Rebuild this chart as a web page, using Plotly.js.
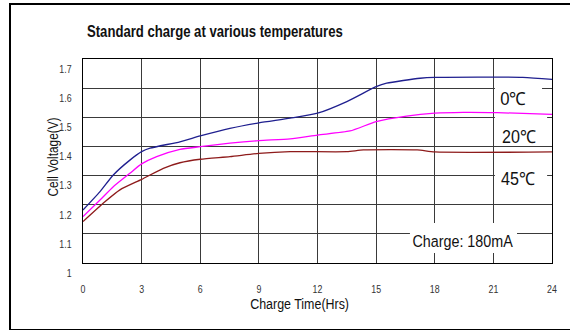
<!DOCTYPE html>
<html>
<head>
<meta charset="utf-8">
<script src="https://cdn.plot.ly/plotly-3.0.1.min.js"></script>
<style>
html,body{margin:0;padding:0;background:#fff;}
#wrap{position:relative;width:570px;height:330px;overflow:hidden;}
#chart{position:absolute;left:0;top:0;width:570px;height:330px;}
#frame{position:absolute;left:9px;top:3px;width:600px;height:324px;border:2px solid #000;pointer-events:none;}
</style>
</head>
<body>
<div id="wrap"><div id="chart"></div><div id="frame"></div></div>
<script>
// Data (hours, volts)
var t0 = [0, 0.87, 1.55, 2.4, 3.0, 3.43, 4.96, 6.0, 7.52, 9.0, 10.6, 12.0, 13.5, 15.0, 15.54, 17.25, 18.0, 22.5, 24];
var v0 = [1.182, 1.245, 1.302, 1.353, 1.382, 1.394, 1.416, 1.436, 1.462, 1.481, 1.497, 1.514, 1.554, 1.605, 1.617, 1.634, 1.637, 1.637, 1.630];

var t20 = [0, 0.87, 1.55, 2.4, 3.0, 3.77, 4.96, 6.0, 7.52, 9.0, 10.6, 12.0, 13.66, 15.0, 16.56, 18.0, 19.46, 21.2, 24];
var v20 = [1.159, 1.216, 1.262, 1.308, 1.340, 1.365, 1.390, 1.399, 1.411, 1.420, 1.426, 1.439, 1.453, 1.485, 1.504, 1.514, 1.517, 1.516, 1.510];

var t45 = [0, 1.12, 1.89, 3.0, 4.11, 4.96, 6.0, 7.52, 9.0, 10.6, 13.5, 14.35, 17.1, 18.0, 24];
var v45 = [1.142, 1.210, 1.251, 1.287, 1.325, 1.344, 1.356, 1.365, 1.376, 1.382, 1.382, 1.388, 1.388, 1.381, 1.381];

var xTicks = [0, 3, 6, 9, 12, 15, 18, 21, 24];
var yTicks = [1, 1.1, 1.2, 1.3, 1.4, 1.5, 1.6, 1.7];
var yTickText = ['1', '1.1', '1.2', '1.3', '1.4', '1.5', '1.6', '1.7'];

var seriesNames = ['0℃', '20℃', '45℃'];
var chartTitle = 'Standard charge at various temperatures';
var xTitle = 'Charge Time(Hrs)';
var yTitle = 'Cell Voltage(V)';
var noteText = 'Charge: 180mA';

var FONT = '"Liberation Sans", Arial, sans-serif';

function tr(x, y, name, color) {
  return {x: x, y: y, name: name, type: 'scatter', mode: 'lines',
    line: {color: color, width: 1.3, shape: 'spline', smoothing: 0.6},
    hoverinfo: 'skip'};
}

var data = [
  tr(t0, v0, seriesNames[0], '#1f1f8f'),
  tr(t20, v20, seriesNames[1], '#ff00ff'),
  tr(t45, v45, seriesNames[2], '#8e1b1b')
];

function box(x0, x1, y0, y1) {
  return {type: 'rect', xref: 'x', yref: 'y', x0: x0, x1: x1, y0: y0, y1: y1,
    fillcolor: '#fff', line: {width: 0}, layer: 'above'};
}

function label(x, y, text) {
  return {xref: 'x', yref: 'y', x: x, y: y, text: text, showarrow: false,
    xanchor: 'left', yanchor: 'middle', font: {family: FONT, size: 18, color: '#111'}};
}

var layout = {
  width: 570, height: 330,
  margin: {l: 83, r: 18, t: 59, b: 67},
  paper_bgcolor: '#fff', plot_bgcolor: '#fff',
  showlegend: false,
  title: {text: chartTitle, xref: 'container', yref: 'container', x: 87 / 570, xanchor: 'left',
    y: 1 - 31 / 330, yanchor: 'middle', font: {family: FONT, size: 16, color: '#111', weight: 'bold'}},
  xaxis: {range: [0, 24], tickvals: xTicks, ticktext: xTicks.map(String),
    showgrid: true, gridcolor: '#3a3a3a', gridwidth: 1, zeroline: false,
    showline: true, mirror: true, linecolor: '#000', linewidth: 1.2,
    ticks: '', ticklabelstandoff: 16,
    tickfont: {family: FONT, size: 11, color: '#333'}, fixedrange: true},
  yaxis: {range: [1.0, 1.7], tickvals: yTicks, ticktext: yTickText,
    showgrid: true, gridcolor: '#3a3a3a', gridwidth: 1, zeroline: false,
    showline: true, mirror: true, linecolor: '#000', linewidth: 1.2,
    ticks: '', ticklabelstandoff: 8, ticklabelshift: 10,
    tickfont: {family: FONT, size: 11, color: '#333'}, fixedrange: true},
  shapes: [
    box(21.08, 23.49, 1.518, 1.614),
    box(21.08, 23.75, 1.408, 1.505),
    box(21.08, 23.75, 1.240, 1.340),
    box(16.73, 22.21, 1.034, 1.137)
  ],
  annotations: [
    label(21.25, 1.563, seriesNames[0]),
    label(21.35, 1.432, seriesNames[1]),
    label(21.3, 1.288, seriesNames[2]),
    {xref: 'x', yref: 'y', x: 19.45, y: 1.075, text: noteText, showarrow: false,
      xanchor: 'center', yanchor: 'middle', font: {family: FONT, size: 17, color: '#111'}},
    {xref: 'paper', yref: 'paper', x: (299 - 83) / 469, y: (263 - 303) / 204, text: xTitle,
      showarrow: false, xanchor: 'center', yanchor: 'middle',
      font: {family: FONT, size: 15, color: '#111'}},
    {xref: 'paper', yref: 'paper', x: (52 - 83) / 469, y: (263 - 157) / 204, text: yTitle,
      showarrow: false, xanchor: 'center', yanchor: 'middle', textangle: -90,
      font: {family: FONT, size: 15, color: '#111'}}
  ]
};

// narrow the texts horizontally to the condensed look of the reference
function squeezeK(el, k, anchor) {
  if (!el) return;
  var bb = el.getBBox();
  if (!bb.width) return;
  var ax = anchor === 'left' ? bb.x : (anchor === 'right' ? bb.x + bb.width : bb.x + bb.width / 2);
  var prev = el.getAttribute('transform') || '';
  el.setAttribute('transform', prev + ' translate(' + ax + ',0) scale(' + k + ',1) translate(' + (-ax) + ',0)');
}
function squeeze(el, targetW, anchor) {
  if (!el) return;
  var bb = el.getBBox();
  if (!bb.width) return;
  squeezeK(el, Math.min(1, targetW / bb.width), anchor);
}

Plotly.newPlot('chart', data, layout, {displayModeBar: false, staticPlot: true}).then(function (gd) {
  squeeze(gd.querySelector('.gtitle'), 256, 'left');
  function ann(i) { return gd.querySelector('.annotation[data-index="' + i + '"] .annotation-text'); }
  squeeze(ann(0), 26, 'left');
  squeeze(ann(1), 34, 'left');
  squeeze(ann(2), 34, 'left');
  squeeze(ann(3), 101, 'middle');
  squeeze(ann(4), 99, 'middle');
  squeeze(ann(5), 79, 'middle');
  gd.querySelectorAll('.xtick text').forEach(function (el) { squeezeK(el, 0.8, 'middle'); });
  gd.querySelectorAll('.ytick text').forEach(function (el) { squeezeK(el, 0.8, 'right'); });
});
</script>
</body>
</html>
